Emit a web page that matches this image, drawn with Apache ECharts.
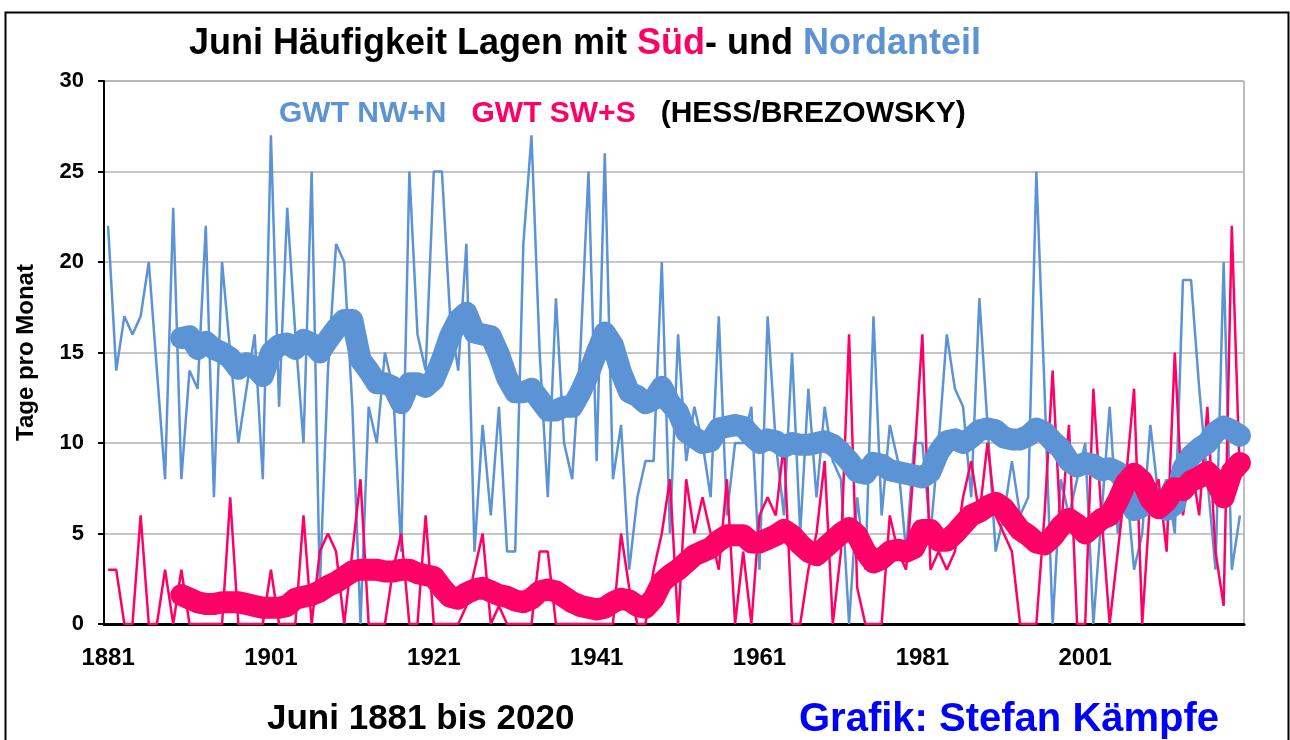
<!DOCTYPE html>
<html>
<head>
<meta charset="utf-8">
<script src="https://cdn.jsdelivr.net/npm/echarts@6/dist/echarts.min.js"></script>
<style>
html, body { margin: 0; padding: 0; background: #fff; }
#container { width: 1290px; height: 740px; }
</style>
</head>
<body>
<div id="container"></div>
<script>
//Jahre 1881-2020
var years = [];
for (var y = 1881; y <= 2020; y++) { years.push(String(y)); }

//GWT NW+N, Tage pro Monat (Juni)
var nwN = [22, 14, 17, 16, 17, 20, 14, 8, 23, 8,
    14, 13, 22, 7, 20, 15, 10, 13, 16, 8,
    27, 12, 23, 16, 10, 25, 2, 14, 21, 20,
    12, 0, 12, 10, 15, 13, 4, 25, 16, 14,
    25, 25, 17, 14, 21, 4, 11, 6, 12, 4,
    4, 21, 27, 15, 7, 18, 10, 8, 15, 25,
    9, 26, 8, 11, 3, 7, 9, 9, 20, 5,
    16, 9, 12, 10, 7, 17, 6, 10, 10, 12,
    3, 17, 10, 6, 15, 5, 13, 7, 12, 9,
    8, 0, 7, 3, 17, 6, 11, 9, 4, 10,
    10, 5, 10, 16, 13, 12, 7, 18, 11, 4,
    6, 9, 6, 7, 25, 13, 0, 8, 6, 8,
    10, 0, 6, 12, 5, 8, 3, 5, 11, 7,
    8, 5, 19, 19, 13, 8, 3, 20, 3, 6];

//GWT SW+S
var swS = [3, 3, 0, 0, 6, 0, 0, 3, 0, 3,
    0, 0, 0, 0, 0, 7, 0, 0, 0, 0,
    3, 0, 0, 0, 6, 0, 4, 5, 4, 0,
    4, 8, 0, 0, 0, 3, 5, 0, 0, 6,
    0, 0, 0, 0, 1, 3, 5, 0, 1, 0,
    0, 0, 0, 4, 4, 0, 0, 0, 0, 0,
    0, 0, 0, 5, 2, 0, 0, 3, 5, 8,
    0, 8, 5, 7, 5, 3, 8, 0, 4, 0,
    6, 7, 6, 10, 0, 0, 3, 5, 9, 0,
    4, 16, 2, 0, 0, 0, 6, 4, 3, 9,
    16, 3, 4, 3, 4, 7, 9, 6, 10, 6,
    5, 4, 0, 0, 0, 6, 14, 5, 11, 0,
    0, 13, 6, 0, 4, 8, 13, 0, 7, 8,
    4, 15, 6, 9, 6, 12, 4, 1, 22, 8];

//gleitendes Mittel NW+N, ab 1890
var nwNMittel = [15.8, 15.9, 15.2, 15.6, 15.2, 15.0, 14.7, 14.1, 14.4, 14.2,
    13.7, 15.0, 15.4, 15.5, 15.2, 15.7, 15.5, 15.0, 15.7, 16.3,
    16.8, 16.8, 14.6, 14.0, 13.3, 13.3, 13.1, 12.2, 13.3, 13.3,
    13.1, 13.5, 14.6, 15.9, 16.8, 17.2, 16.1, 16.0, 15.9, 14.9,
    13.6, 12.8, 12.8, 13.0, 12.4, 11.8, 11.8, 12.0, 12.0, 12.8,
    13.8, 15.0, 16.1, 15.4, 13.9, 12.8, 12.6, 12.2, 12.4, 13.1,
    12.2, 11.7, 10.6, 10.3, 10.0, 10.1, 10.8, 10.9, 11.0, 10.9,
    10.4, 10.0, 10.2, 10.1, 9.8, 10.0, 9.9, 9.9, 10.0, 10.1,
    9.9, 9.5, 9.0, 8.4, 8.3, 8.9, 8.8, 8.5, 8.4, 8.3,
    8.2, 8.1, 8.4, 9.5, 10.1, 10.2, 10.0, 10.3, 10.7, 10.8,
    10.7, 10.3, 10.2, 10.2, 10.4, 10.8, 10.6, 10.1, 9.7, 9.0,
    8.7, 8.9, 8.8, 8.5, 8.6, 8.4, 7.8, 6.3, 6.5, 6.8,
    6.5, 6.3, 6.6, 8.6, 9.3, 9.7, 10.0, 10.6, 10.9, 10.7,
    10.4];

//gleitendes Mittel SW+S, ab 1890
var swSMittel = [1.6, 1.4, 1.2, 1.1, 1.1, 1.2, 1.2, 1.2, 1.1, 1.0,
    0.9, 0.9, 0.9, 1.0, 1.4, 1.5, 1.6, 1.8, 2.1, 2.3,
    2.6, 2.9, 3.0, 3.0, 3.0, 2.9, 2.9, 3.0, 3.0, 2.8,
    2.7, 2.6, 2.0, 1.5, 1.4, 1.7, 1.9, 2.0, 1.8, 1.6,
    1.5, 1.3, 1.2, 1.4, 1.8, 1.9, 1.8, 1.5, 1.2, 1.0,
    0.9, 0.8, 0.9, 1.2, 1.4, 1.3, 1.0, 0.9, 1.4, 2.3,
    2.7, 3.0, 3.4, 3.8, 4.0, 4.2, 4.6, 4.9, 4.9, 4.9,
    4.5, 4.5, 4.7, 4.9, 5.2, 4.9, 4.4, 4.0, 3.8, 4.2,
    4.6, 5.0, 5.3, 4.9, 4.0, 3.4, 3.6, 4.0, 4.1, 4.0,
    4.2, 5.2, 5.2, 4.6, 4.6, 5.0, 5.5, 6.0, 6.2, 6.5,
    6.7, 6.4, 5.8, 5.2, 4.9, 4.5, 4.4, 4.8, 5.4, 5.8,
    5.5, 5.0, 5.4, 5.8, 6.0, 6.8, 7.8, 8.3, 7.9, 6.9,
    6.4, 6.8, 7.5, 7.4, 7.9, 8.1, 8.4, 7.9, 7.0, 8.4,
    8.9];

var yTicks = [0, 5, 10, 15, 20, 25, 30];

var blau = '#5B93D4';
var pink = '#FF0066';
var schrift = '"Liberation Sans", Arial, sans-serif';

//Mittelwerte erst ab 1890 -> vorne mit null auffuellen
var luecke = years.length - nwNMittel.length;
function auffuellen(arr) {
    var out = [];
    for (var i = 0; i < luecke; i++) { out.push(null); }
    return out.concat(arr);
}

var dom = document.getElementById('container');
var myChart = echarts.init(dom, null, { renderer: 'canvas' });
var option = {
    animation: false,
    backgroundColor: '#fff',
    textStyle: { fontFamily: schrift },
    title: [{
        //Titel mit farbigen Teilen
        left: 184,
        top: 21,
        text: '{a|Juni Häufigkeit Lagen mit }{s|Süd}{a|- und }{n|Nordanteil}',
        textStyle: {
            rich: {
                a: { fontSize: 36, fontWeight: 'bold', color: '#000', fontFamily: schrift },
                s: { fontSize: 36, fontWeight: 'bold', color: pink, fontFamily: schrift },
                n: { fontSize: 36, fontWeight: 'bold', color: blau, fontFamily: schrift }
            }
        }
    }, {
        //Legende als Text
        left: 274,
        top: 94,
        text: '{b|GWT NW+N   }{p|GWT SW+S   }{k|(HESS/BREZOWSKY)}',
        textStyle: {
            rich: {
                b: { fontSize: 30, fontWeight: 'bold', color: blau, fontFamily: schrift },
                p: { fontSize: 30, fontWeight: 'bold', color: pink, fontFamily: schrift },
                k: { fontSize: 30, fontWeight: 'bold', color: '#000', fontFamily: schrift }
            }
        }
    }, {
        left: 262,
        top: 697,
        text: 'Juni 1881 bis 2020',
        textStyle: { fontSize: 35, fontWeight: 'bold', color: '#000', fontFamily: schrift }
    }, {
        left: 794,
        top: 695,
        text: 'Grafik: Stefan Kämpfe',
        textStyle: { fontSize: 40, fontWeight: 'bold', color: '#0000FF', fontFamily: schrift }
    }],
    //aeusserer Rahmen
    graphic: [{
        type: 'rect',
        left: 3,
        top: 10,
        shape: { width: 1283, height: 740 },
        style: { fill: 'none', stroke: '#000', lineWidth: 2 },
        silent: true
    }],
    grid: {
        left: 104,
        right: 46,
        top: 81,
        bottom: 116,
        show: true,
        borderColor: '#7f7f7f',
        borderWidth: 1
    },
    xAxis: {
        type: 'category',
        data: years,
        boundaryGap: true,
        axisLine: { lineStyle: { color: '#000', width: 3 } },
        axisTick: { interval: 19, length: 7, lineStyle: { color: '#000', width: 2 } },
        axisLabel: {
            interval: 19,
            margin: 22,
            fontSize: 24,
            fontWeight: 'bold',
            color: '#000',
            fontFamily: schrift
        },
        splitLine: { show: false }
    },
    yAxis: {
        type: 'value',
        min: yTicks[0],
        max: yTicks[yTicks.length - 1],
        interval: 5,
        name: 'Tage pro Monat',
        nameLocation: 'middle',
        nameRotate: 90,
        nameGap: 66,
        nameTextStyle: { fontSize: 24, fontWeight: 'bold', color: '#000', fontFamily: schrift },
        axisLine: { show: true, lineStyle: { color: '#000', width: 2 } },
        axisTick: { show: true, length: 6, lineStyle: { color: '#000', width: 2 } },
        axisLabel: {
            margin: 20,
            fontSize: 22,
            fontWeight: 'bold',
            color: '#000',
            fontFamily: schrift
        },
        splitLine: { lineStyle: { color: '#b3b3b3', width: 1.5 } }
    },
    series: [{
        name: 'GWT NW+N',
        type: 'line',
        data: nwN,
        symbol: 'none',
        lineStyle: { color: blau, width: 2.5 },
        z: 2
    }, {
        name: 'GWT SW+S',
        type: 'line',
        data: swS,
        symbol: 'none',
        lineStyle: { color: pink, width: 2.5 },
        z: 3
    }, {
        name: 'NW+N Mittel',
        type: 'line',
        data: auffuellen(nwNMittel),
        symbol: 'none',
        connectNulls: false,
        lineStyle: { color: blau, width: 22, cap: 'round', join: 'round' },
        z: 4
    }, {
        name: 'SW+S Mittel',
        type: 'line',
        data: auffuellen(swSMittel),
        symbol: 'none',
        connectNulls: false,
        lineStyle: { color: pink, width: 22, cap: 'round', join: 'round' },
        z: 5
    }]
};
myChart.setOption(option, true);
</script>
</body>
</html>
